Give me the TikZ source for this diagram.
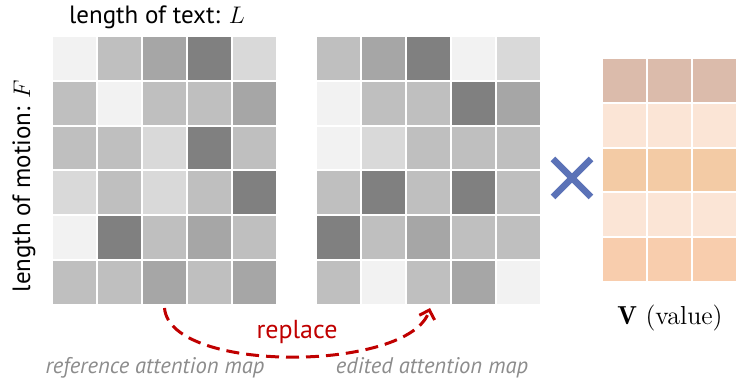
\documentclass[tikz,border=0pt]{standalone}
\usepackage{fontspec}
\setsansfont{PT Sans}
\usepackage{tikz}
\usetikzlibrary{arrows.meta}

\definecolor{g1}{HTML}{F2F2F2}
\definecolor{g2}{HTML}{D9D9D9}
\definecolor{g3}{HTML}{BFBFBF}
\definecolor{g4}{HTML}{A6A6A6}
\definecolor{g5}{HTML}{808080}
\definecolor{v1}{HTML}{DBBBAB}
\definecolor{v2}{HTML}{FBE5D6}
\definecolor{v3}{HTML}{F3CBA5}
\definecolor{v4}{HTML}{FBE5D6}
\definecolor{v5}{HTML}{F8CDAD}
\definecolor{crossblue}{HTML}{5B72B7}
\definecolor{replred}{HTML}{C00000}
\definecolor{capgray}{HTML}{8C8C8C}

\begin{document}
\begin{tikzpicture}[x=0.5pt,y=-0.5pt,
 lbl/.style={font=\sffamily\fontsize{12.5}{14}\selectfont,inner sep=0pt},
 maplbl/.style={font=\sffamily\itshape\fontsize{11.3}{13}\selectfont,text=capgray,inner sep=0pt},
 every path/.style={line width=0.5pt}]
\useasboundingbox (0,0) rectangle (736,383);
% reference map
\foreach \row [count=\j from 0] in {{1,3,4,5,2},{3,1,3,3,4},{3,3,2,5,3},{2,3,2,3,5},{1,5,3,4,3},{3,3,4,3,4}}
  \foreach \c [count=\i from 0] in \row
    \fill[g\c] (53+45*\i,37+44.8*\j) rectangle ++(43,42.8);
% edited map
\foreach \row [count=\j from 0] in {{3,4,5,1,2},{1,3,3,5,4},{1,2,3,3,3},{3,5,3,5,3},{5,3,4,3,3},{3,1,3,4,1}}
  \foreach \c [count=\i from 0] in \row
    \fill[g\c] (317.5+45*\i,37+44.8*\j) rectangle ++(43,42.8);
% value
\foreach \c [count=\j from 0] in {1,2,3,4,5}
  \foreach \i in {0,1,2}
    \fill[v\c] (603.5+45*\i,59+44.8*\j) rectangle ++(43,42.8);
\node[lbl] (textlen) at (157,17) {length of text: $L$};
\node[lbl,rotate=90] (motionlen) at (24,186) {length of motion: $F$};
\node[maplbl] (refcap) at (155,368) {reference attention map};
\node[maplbl] (editcap) at (432,368) {edited attention map};
\node[font=\fontsize{13}{15}\selectfont,inner sep=0pt] (vlabel) at (670,318) {$\mathbf{V}$ (value)};
\node[lbl,text=replred,font=\sffamily\fontsize{13}{15}\selectfont] (repl) at (297,332) {replace};
% times sign
\draw[crossblue,line width=3.3pt] (553,159) -- (591,197) (591,159) -- (553,197);
\coordinate (refbot) at (164.5,308);
\coordinate (editbot) at (430,308);
\draw[replred,line width=1.5pt,dash pattern=on 6.5pt off 3.5pt,-{Straight Barb[length=4pt,width=8pt]}]
 (refbot) .. controls (170,374) and (410,372) .. (editbot);
\end{tikzpicture}
\end{document}
